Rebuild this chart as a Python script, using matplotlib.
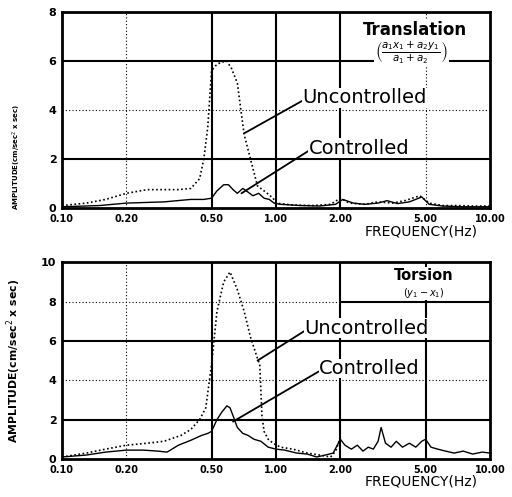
import matplotlib
matplotlib.use("Agg")
import matplotlib.pyplot as plt
import numpy as np

# ---- data ----
xticks = [0.1, 0.2, 0.5, 1.0, 2.0, 5.0, 10.0]
xtick_labels = ["0.10", "0.20", "0.50", "1.00", "2.00", "5.00", "10.00"]

# Translation panel
tr_unc_f = [0.10, 0.13, 0.16, 0.20, 0.25, 0.30, 0.35, 0.40, 0.44, 0.46, 0.48, 0.50, 0.52, 0.55, 0.59, 0.62, 0.66, 0.71, 0.76, 0.82, 0.91, 0.97, 1.0, 1.2, 1.5, 1.8, 2.0, 2.2, 2.6, 3.0, 3.5, 4.0, 4.7, 5.2, 6.0, 7.0, 8.5, 10.0]
tr_unc_a = [0.10, 0.20, 0.35, 0.60, 0.75, 0.75, 0.75, 0.80, 1.20, 2.00, 3.30, 5.60, 5.80, 5.95, 6.00, 5.70, 5.10, 3.00, 2.00, 0.90, 0.60, 0.40, 0.20, 0.12, 0.10, 0.15, 0.40, 0.20, 0.15, 0.25, 0.20, 0.30, 0.50, 0.20, 0.10, 0.10, 0.08, 0.08]
tr_con_f = [0.10, 0.15, 0.20, 0.30, 0.40, 0.46, 0.50, 0.53, 0.57, 0.60, 0.63, 0.66, 0.70, 0.74, 0.78, 0.83, 0.88, 0.93, 0.98, 1.05, 1.3, 1.6, 1.9, 2.05, 2.3, 2.6, 3.0, 3.3, 3.7, 4.2, 4.8, 5.2, 6.0, 7.5, 10.0]
tr_con_a = [0.05, 0.10, 0.20, 0.25, 0.35, 0.35, 0.40, 0.70, 0.95, 0.95, 0.75, 0.60, 0.80, 0.65, 0.50, 0.60, 0.40, 0.35, 0.20, 0.15, 0.10, 0.08, 0.15, 0.35, 0.20, 0.15, 0.20, 0.30, 0.18, 0.25, 0.45, 0.15, 0.08, 0.05, 0.05]

# Torsion panel
to_unc_f = [0.10, 0.13, 0.16, 0.20, 0.25, 0.30, 0.36, 0.40, 0.44, 0.47, 0.50, 0.53, 0.57, 0.61, 0.66, 0.71, 0.76, 0.82, 0.84, 0.85, 0.86, 0.88, 0.92, 0.97, 1.05, 1.2, 1.4, 1.6, 1.8, 1.9, 2.0]
to_unc_a = [0.10, 0.30, 0.50, 0.70, 0.80, 0.90, 1.20, 1.50, 2.00, 2.60, 4.80, 7.50, 9.00, 9.50, 8.60, 7.50, 6.20, 5.10, 4.80, 3.50, 2.20, 1.40, 1.00, 0.80, 0.60, 0.50, 0.30, 0.20, 0.10, 0.40, 1.10]
to_con_f = [0.10, 0.13, 0.16, 0.20, 0.24, 0.28, 0.31, 0.35, 0.40, 0.45, 0.48, 0.50, 0.53, 0.56, 0.59, 0.61, 0.63, 0.66, 0.70, 0.74, 0.79, 0.85, 0.92, 1.0, 1.1, 1.25, 1.4, 1.55, 1.7, 1.85, 2.0, 2.1, 2.25, 2.4, 2.55, 2.7, 2.85, 3.0, 3.1, 3.25, 3.45, 3.65, 3.9, 4.2, 4.5, 4.8, 5.0, 5.3, 5.7, 6.2, 6.8, 7.5, 8.3, 9.2, 10.0]
to_con_a = [0.10, 0.20, 0.35, 0.45, 0.45, 0.40, 0.35, 0.70, 0.95, 1.20, 1.30, 1.40, 2.00, 2.40, 2.70, 2.60, 2.20, 1.60, 1.30, 1.20, 1.00, 0.90, 0.60, 0.50, 0.45, 0.30, 0.25, 0.10, 0.20, 0.30, 1.00, 0.70, 0.50, 0.70, 0.40, 0.60, 0.50, 0.90, 1.60, 0.80, 0.60, 0.90, 0.60, 0.80, 0.60, 0.90, 1.00, 0.60, 0.50, 0.40, 0.30, 0.40, 0.25, 0.35, 0.30]

fig = plt.figure(figsize=(5.12, 4.97), dpi=100)
ax1 = fig.add_axes([0.121, 0.5815, 0.836, 0.394])
ax2 = fig.add_axes([0.121, 0.0765, 0.836, 0.396])

DOT = (0, (1, 2))

def style(ax, ymax, ysolid, ydot, vsolid, vdot):
    ax.set_xscale("log")
    ax.set_xlim(0.1, 10)
    ax.set_ylim(0, ymax)
    for y in ysolid:
        ax.axhline(y, color="black", lw=1.5, zorder=1)
    for y in ydot:
        ax.axhline(y, color="black", lw=0.8, ls=DOT, zorder=1)
    for x in vsolid:
        ax.axvline(x, color="black", lw=1.5, zorder=1)
    for x in vdot:
        ax.axvline(x, color="black", lw=0.8, ls=DOT, zorder=1)
    ax.set_xticks(xticks)
    ax.set_xticklabels(xtick_labels, fontsize=7, fontweight="bold")
    ax.minorticks_off()
    ax.set_yticks(np.arange(0, ymax + 1, 2))
    ax.set_yticklabels([str(int(v)) for v in np.arange(0, ymax + 1, 2)], fontsize=8, fontweight="bold")
    ax.tick_params(length=0, pad=4)
    for s in ax.spines.values():
        s.set_linewidth(2)

style(ax1, 8, [2, 6], [4], [0.5, 1.0, 2.0], [0.2, 5.0])
style(ax2, 10, [2, 6], [4], [0.5, 1.0, 2.0, 5.0], [0.2])
# y=8 line in torsion panel: dotted left of 2 Hz, solid right of it
ax2.plot([0.1, 2.0], [8, 8], color="black", lw=0.8, ls=DOT, zorder=1)
ax2.plot([2.0, 10.0], [8, 8], color="black", lw=1.5, zorder=1)

ax1.set_xlabel("FREQUENCY(Hz)", fontsize=10)
ax1.xaxis.set_label_coords(0.97, -0.085)
ax1.xaxis.label.set_horizontalalignment("right")
ax2.set_xlabel("FREQUENCY(Hz)", fontsize=10)
ax2.xaxis.set_label_coords(0.97, -0.08)
ax2.xaxis.label.set_horizontalalignment("right")

ax1.plot(tr_unc_f, tr_unc_a, color="black", lw=1.2, ls=(0, (1, 1.5)), zorder=3)
ax1.plot(tr_con_f, tr_con_a, color="black", lw=1.0, zorder=3)
ax2.plot(to_unc_f, to_unc_a, color="black", lw=1.2, ls=(0, (1, 1.5)), zorder=3)
ax2.plot(to_con_f, to_con_a, color="black", lw=1.0, zorder=3)

ax1.set_ylabel("AMPLITUDE(cm/sec$^2$ x sec)", fontsize=5.0, fontweight="bold")
ax1.yaxis.set_label_coords(-0.09, 0.26)
ax2.set_ylabel("AMPLITUDE(cm/sec$^2$ x sec)", fontsize=7.8, fontweight="bold")
ax2.yaxis.set_label_coords(-0.09, 0.5)

# annotations
ax1.text(4.45, 7.27, "Translation", fontsize=12, fontweight="bold", ha="center", va="center",
         bbox=dict(facecolor="white", edgecolor="none", pad=1))
ax1.text(4.3, 6.35, r"$\left(\frac{a_1 x_1 + a_2 y_1}{a_1 + a_2}\right)$", fontsize=10.5,
         ha="center", va="center", bbox=dict(facecolor="white", edgecolor="none", pad=0.5))
arrow = dict(arrowstyle="-", lw=1.3, color="black", shrinkA=0, shrinkB=0, relpos=(0, 0.35))
ax1.annotate("Uncontrolled", xy=(0.71, 3.05), xytext=(1.33, 4.5), fontsize=14,
             ha="left", va="center", arrowprops=arrow,
             bbox=dict(facecolor="white", edgecolor="none", pad=0.3))
ax1.annotate("Controlled", xy=(0.69, 0.6), xytext=(1.42, 2.45), fontsize=14,
             ha="left", va="center", arrowprops=arrow,
             bbox=dict(facecolor="white", edgecolor="none", pad=0.3))

ax2.text(4.9, 9.3, "Torsion", fontsize=10.5, fontweight="bold", ha="center", va="center",
         bbox=dict(facecolor="white", edgecolor="none", pad=1))
ax2.text(4.9, 8.45, r"$(y_1 - x_1)$", fontsize=7, ha="center", va="center",
         bbox=dict(facecolor="white", edgecolor="none", pad=0.5))
ax2.annotate("Uncontrolled", xy=(0.82, 5.0), xytext=(1.36, 6.65), fontsize=14,
             ha="left", va="center", arrowprops=arrow,
             bbox=dict(facecolor="white", edgecolor="none", pad=0.3))
ax2.annotate("Controlled", xy=(0.63, 1.9), xytext=(1.59, 4.6), fontsize=14,
             ha="left", va="center", arrowprops=arrow,
             bbox=dict(facecolor="white", edgecolor="none", pad=0.3))

fig.savefig("out.png", dpi=100)
